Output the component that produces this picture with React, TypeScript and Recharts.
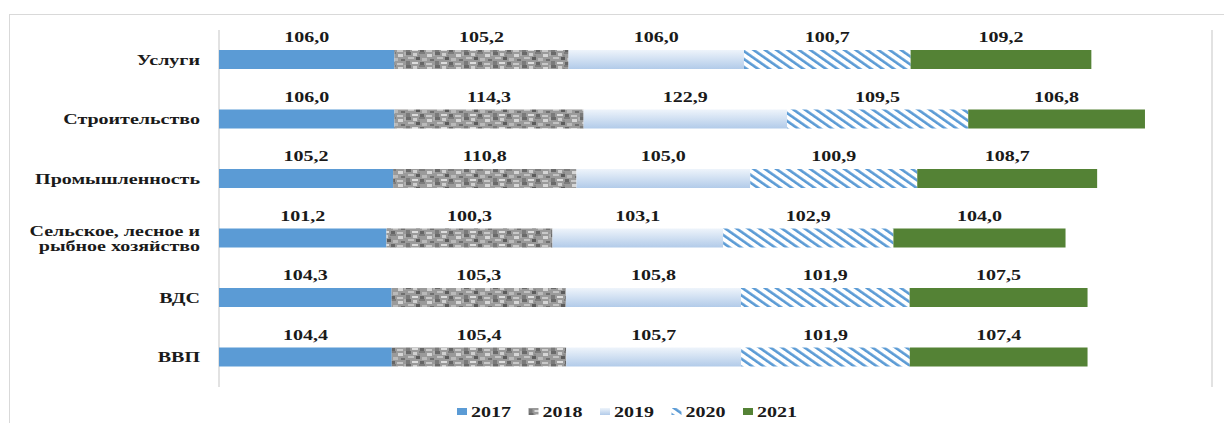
import React from 'react';
import { BarChart, Bar, XAxis, YAxis, CartesianGrid, LabelList } from 'recharts';

const categories = ['Услуги', 'Строительство', 'Промышленность', 'Сельское, лесное и рыбное хозяйство', 'ВДС', 'ВВП'];
const years = ['2017', '2018', '2019', '2020', '2021'];
const s2017 = [106.0, 106.0, 105.2, 101.2, 104.3, 104.4];
const s2018 = [105.2, 114.3, 110.8, 100.3, 105.3, 105.4];
const s2019 = [106.0, 122.9, 105.0, 103.1, 105.8, 105.7];
const s2020 = [100.7, 109.5, 100.9, 102.9, 101.9, 101.9];
const s2021 = [109.2, 106.8, 108.7, 104.0, 107.5, 107.4];
const xTicks = [0, 100, 200, 300, 400, 500, 600];

const data = categories.map((c, i) => ({
  name: c,
  y2017: s2017[i],
  y2018: s2018[i],
  y2019: s2019[i],
  y2020: s2020[i],
  y2021: s2021[i],
}));

const FONT = '"Liberation Serif", "Times New Roman", serif';
const SX = 1.38;
const FS = 14.5;
const fills = ['#5B9BD5', 'url(#granite)', 'url(#grad19)', 'url(#stripes)', '#548235'];
const legendFills = ['#5B9BD5', 'url(#lgranite)', 'url(#lgrad19)', 'url(#lstripes)', '#548235'];

const fmt = (v: number) => v.toFixed(1).replace('.', ',');

const Defs = ({ p }: { p: string }) => (
  <defs>
    <pattern id={p + 'granite'} patternUnits="userSpaceOnUse" width="29" height="13">
      <rect x="0" y="0" width="29" height="13" fill="#9A9A9A" />
      <rect x="0" y="0" width="5" height="3" fill="#6a6a6a" />
      <rect x="7" y="1" width="4" height="3" fill="#cfcfcf" />
      <rect x="13" y="0" width="6" height="2" fill="#7c7c7c" />
      <rect x="21" y="2" width="5" height="3" fill="#d5d5d5" />
      <rect x="2" y="5" width="6" height="2" fill="#c2c2c2" />
      <rect x="10" y="5" width="4" height="3" fill="#5c5c5c" />
      <rect x="16" y="6" width="5" height="3" fill="#bababa" />
      <rect x="24" y="7" width="4" height="2" fill="#707070" />
      <rect x="0" y="9" width="4" height="4" fill="#7a7a7a" />
      <rect x="6" y="10" width="6" height="2" fill="#dcdcdc" />
      <rect x="14" y="10" width="4" height="3" fill="#666666" />
      <rect x="20" y="11" width="6" height="2" fill="#c8c8c8" />
      <rect x="12" y="3" width="2" height="2" fill="#8a8a8a" />
      <rect x="27" y="0" width="2" height="4" fill="#b0b0b0" />
    </pattern>
    <linearGradient id={p + 'grad19'} x1="0" y1="0" x2="0" y2="1">
      <stop offset="0" stopColor="#EEF4FB" />
      <stop offset="1" stopColor="#B2CBE9" />
    </linearGradient>
    <pattern id={p + 'stripes'} patternUnits="userSpaceOnUse" width="6.5" height="6.5" patternTransform="rotate(-55)">
      <rect x="0" y="0" width="6.5" height="6.5" fill="#ffffff" />
      <rect x="0" y="0" width="2.6" height="6.5" fill="#5B9BD5" />
    </pattern>
  </defs>
);

const CatTick = (props: any) => {
  const { y, payload } = props;
  const v: string = payload.value;
  const lines = v === 'Сельское, лесное и рыбное хозяйство' ? ['Сельское, лесное и', 'рыбное хозяйство'] : [v];
  const start = y - ((lines.length - 1) * 15) / 2;
  return (
    <g>
      {lines.map((l, i) => (
        <text
          key={i}
          transform={`translate(200, ${start + i * 15 + 5}) scale(${SX},1)`}
          textAnchor="end"
          fontFamily={FONT}
          fontWeight="bold"
          fontSize={FS}
          fill="#1a1a1a"
        >
          {l}
        </text>
      ))}
    </g>
  );
};

const makeLabel = (series: number[]) => (props: any) => {
  const { x, y, width, index } = props;
  const v = series[index];
  return (
    <text
      transform={`translate(${Number(x) + Number(width) / 2}, ${Number(y) - 8}) scale(${SX},1)`}
      textAnchor="middle"
      fontFamily={FONT}
      fontWeight="bold"
      fontSize={FS}
      fill="#1a1a1a"
    >
      {fmt(v)}
    </text>
  );
};

const seriesArr = [s2017, s2018, s2019, s2020, s2021];

export default function App() {
  return (
    <div style={{ position: 'absolute', left: 0, top: 0, width: 1224, height: 423, overflow: 'hidden', background: '#fff' }}>
      <div style={{ position: 'absolute', left: 9, top: 14, width: 1240, height: 440, border: '1px solid #D9D9D9' }} />
      <div style={{ position: 'absolute', left: 0, top: 0 }}>
        <BarChart width={1224} height={423} data={data} layout="vertical" margin={{ top: 30, right: 12, bottom: 36, left: 0 }} barSize={19}>
          <Defs p="" />
          <CartesianGrid horizontal={false} stroke="#D9D9D9" strokeWidth={1.5} />
          <XAxis type="number" domain={[0, 600]} ticks={xTicks} tick={false} axisLine={false} tickLine={false} height={0} />
          <YAxis type="category" dataKey="name" width={219} axisLine={false} tickLine={false} tick={<CatTick />} interval={0} />
          {years.map((yr, i) => (
            <Bar key={yr} dataKey={'y' + yr} stackId="a" fill={fills[i]} isAnimationActive={false}>
              <LabelList dataKey={'y' + yr} content={makeLabel(seriesArr[i])} />
            </Bar>
          ))}
        </BarChart>
      </div>
      <svg style={{ position: 'absolute', left: 0, top: 400 }} width={1224} height={23}>
        <Defs p="l" />
        {years.map((yr, i) => (
          <g key={yr} transform={`translate(${457 + i * 71.5}, 0)`}>
            <rect x={0} y={8} width={10} height={7} fill={legendFills[i]} />
            <text
              transform={`translate(14, 17) scale(${SX},1)`}
              fontFamily={FONT}
              fontWeight="bold"
              fontSize={FS}
              fill="#1a1a1a"
            >
              {yr}
            </text>
          </g>
        ))}
      </svg>
    </div>
  );
}
